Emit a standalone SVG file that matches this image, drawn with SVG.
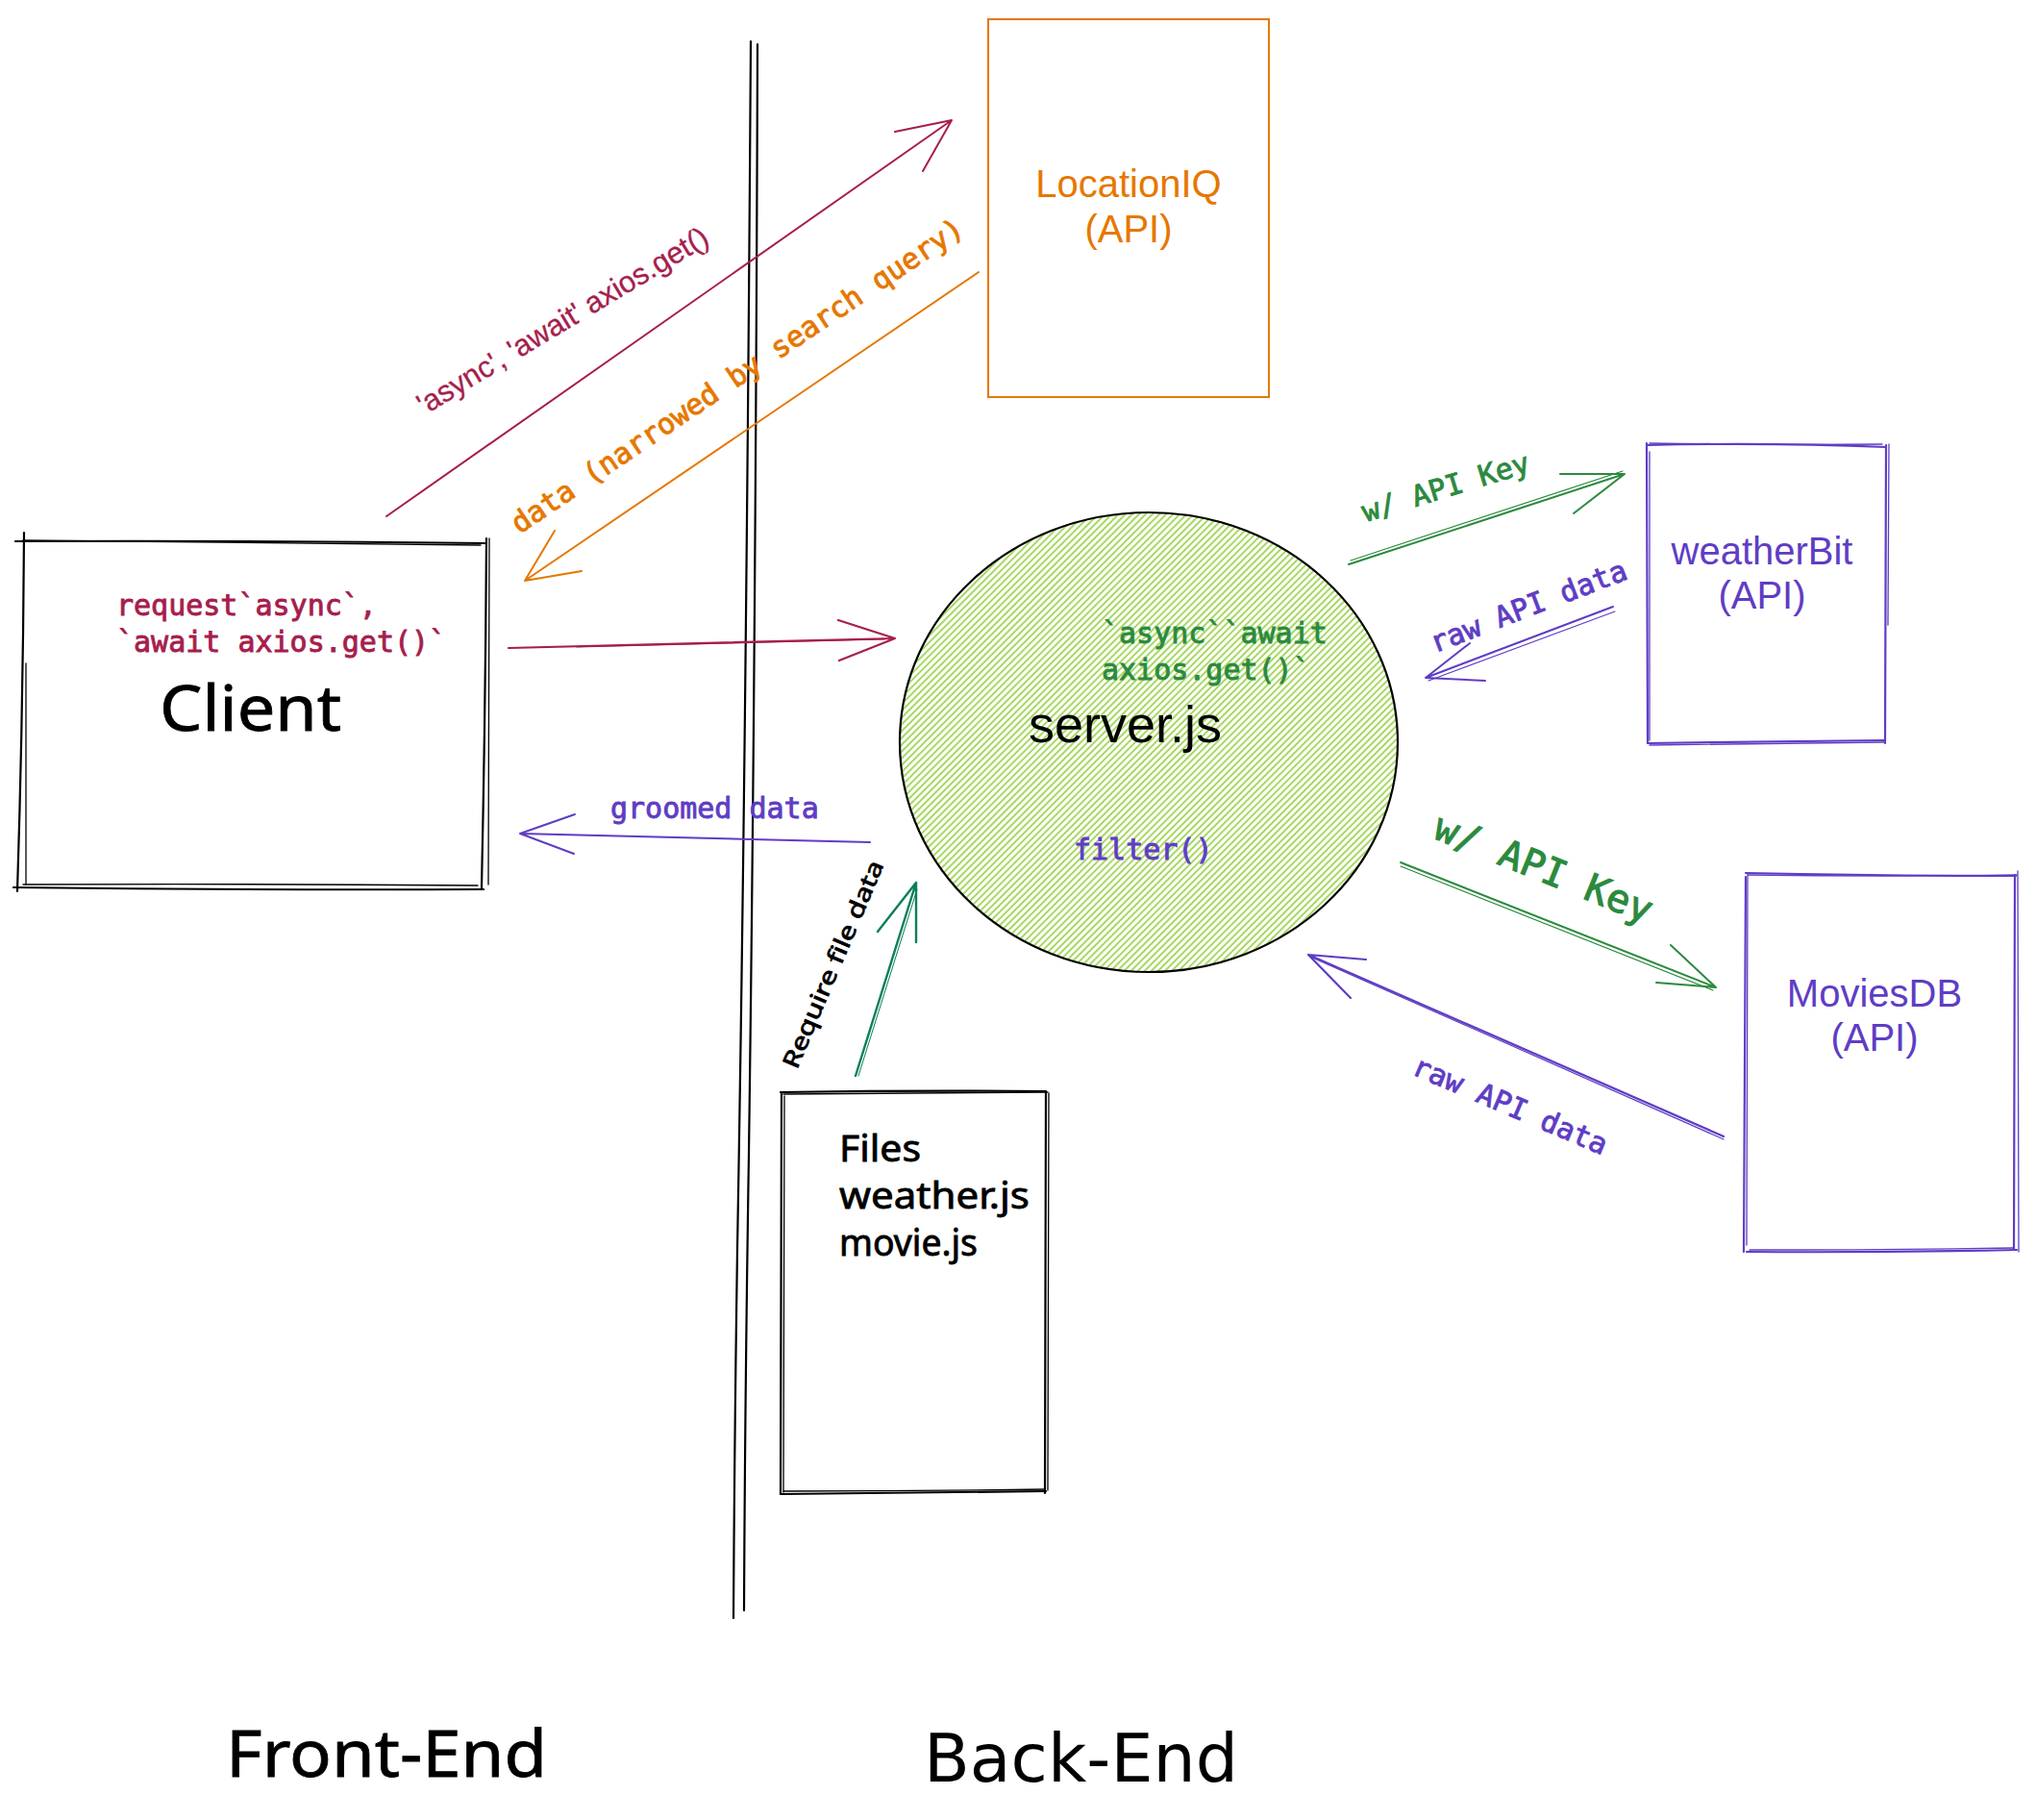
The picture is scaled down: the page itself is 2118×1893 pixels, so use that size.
<svg xmlns="http://www.w3.org/2000/svg" width="2118" height="1893" viewBox="0 0 2118 1893">
<style>
.sk{fill:none;stroke-linecap:round;stroke-linejoin:round}
.k{stroke:#000}
.red{stroke:#a61e4d}
.org{stroke:#e67700}
.grn{stroke:#2b8a3e}
.pur{stroke:#5f3dc4}
.teal{stroke:#087f5b}
.w1{stroke-width:2.2}
.w2{stroke-width:1.3}
.mono{font-family:"DejaVu Sans Mono","Liberation Mono",monospace;font-size:30px;stroke-width:0.9}
.big{font-size:40px;stroke-width:1.1}
.sans{font-family:"Liberation Sans",Arial,sans-serif}
.hand{font-family:"Noto Sans","Liberation Sans",sans-serif;fill:#000;stroke:#000;stroke-width:0.8}
.tred{fill:#a61e4d;stroke:#a61e4d}
.torg{fill:#e67700;stroke:#e67700}
.tgrn{fill:#2b8a3e;stroke:#2b8a3e}
.tpur{fill:#5f3dc4;stroke:#5f3dc4}
</style>
<defs>
<pattern id="hatch" patternUnits="userSpaceOnUse" width="5" height="10" patternTransform="rotate(45)">
<line x1="1" y1="0" x2="1" y2="10" stroke="#82c91e" stroke-width="1.4"/>
</pattern>
</defs>
<rect width="2118" height="1893" fill="#fff"/>

<g id="divider">
<path class="sk k w1" d="M781,43 Q776,800 767,1300 Q764,1500 763,1683"/>
<path class="sk k w1" d="M788,46 Q786,700 779,1200 Q775,1450 774,1675"/>
</g>

<g id="client">
<path class="sk k w1" d="M16,563 Q260,562 504,565"/>
<path class="sk k w2" d="M24,562 Q250,564 500,567"/>
<path class="sk k w1" d="M25,554 Q24,740 18,927"/>
<path class="sk k w2" d="M27,690 Q27,800 27,920"/>
<path class="sk k w1" d="M506,560 Q505,740 501,924"/>
<path class="sk k w2" d="M509,560 Q509,740 508,920"/>
<path class="sk k w1" d="M14,923 Q260,926 503,925"/>
<path class="sk k w2" d="M24,920 Q260,919 497,921"/>
<text class="mono tred" x="121" y="640">request`async`,</text>
<text class="mono tred" x="121" y="678">`await axios.get()`</text>
<text class="hand" x="166" y="760" font-size="66" textLength="189" lengthAdjust="spacingAndGlyphs" stroke-width="1.8">Client</text>
</g>

<g id="locationiq">
<rect x="1028" y="20" width="292" height="393" fill="none" stroke="#e67700" stroke-width="2"/>
<text class="sans" x="1174" y="205" font-size="40" fill="#e67700" text-anchor="middle">LocationIQ</text>
<text class="sans" x="1174" y="252" font-size="40" fill="#e67700" text-anchor="middle">(API)</text>
</g>

<g id="server">
<ellipse cx="1195" cy="772" rx="259" ry="239" fill="url(#hatch)"/>
<path class="sk k" stroke-width="2.2" d="M936,772 C936,640 1052,533 1195,533 C1338,533 1454,640 1454,772 C1454,904 1338,1011 1195,1011 C1052,1011 936,904 936,772 Z"/>
<text class="mono tgrn" x="1146" y="669">`async``await</text>
<text class="mono tgrn" x="1146" y="707">axios.get()`</text>
<text class="sans" x="1070" y="772" font-size="54" fill="#000">server.js</text>
<text class="mono tpur" x="1117" y="894">filter()</text>
</g>

<g id="weatherbit">
<path class="sk pur w1" d="M1713,463 Q1840,460 1962,465"/>
<path class="sk pur w2" d="M1716,461 Q1840,463 1958,462"/>
<path class="sk pur w1" d="M1713,461 Q1713,620 1714,773"/>
<path class="sk pur w2" d="M1716,470 Q1716,620 1716,770"/>
<path class="sk pur w1" d="M1962,463 Q1961,620 1961,773"/>
<path class="sk pur w2" d="M1965,462 Q1964,600 1964,650"/>
<path class="sk pur w1" d="M1714,773 Q1840,771 1961,770"/>
<path class="sk pur w2" d="M1716,775 Q1840,774 1960,772"/>
<text class="sans" x="1833" y="587" font-size="40" fill="#5f3dc4" text-anchor="middle">weatherBit</text>
<text class="sans" x="1833" y="633" font-size="40" fill="#5f3dc4" text-anchor="middle">(API)</text>
</g>

<g id="moviesdb">
<path class="sk pur w1" d="M1816,908 Q1960,911 2097,911"/>
<path class="sk pur w2" d="M1818,910 Q1960,912 2098,910"/>
<path class="sk pur w1" d="M1816,912 Q1815,1100 1814,1302"/>
<path class="sk pur w2" d="M1818,910 Q1818,1100 1817,1295"/>
<path class="sk pur w1" d="M2096,910 Q2096,1100 2095,1300"/>
<path class="sk pur w2" d="M2099,906 Q2099,1100 2100,1302"/>
<path class="sk pur w1" d="M1817,1302 Q1960,1303 2098,1300"/>
<path class="sk pur w2" d="M1820,1300 Q1960,1300 2094,1298"/>
<text class="sans" x="1950" y="1047" font-size="40" fill="#5f3dc4" text-anchor="middle">MoviesDB</text>
<text class="sans" x="1950" y="1093" font-size="40" fill="#5f3dc4" text-anchor="middle">(API)</text>
</g>

<g id="files">
<path class="sk k w1" d="M812,1136 Q950,1134 1088,1135"/>
<path class="sk k w2" d="M815,1138 Q950,1137 1090,1136"/>
<path class="sk k w1" d="M813,1136 Q813,1350 812,1554"/>
<path class="sk k w2" d="M816,1140 Q815,1350 815,1552"/>
<path class="sk k w1" d="M1088,1136 Q1088,1350 1087,1553"/>
<path class="sk k w2" d="M1091,1137 Q1091,1350 1090,1550"/>
<path class="sk k w1" d="M812,1554 Q950,1553 1088,1551"/>
<path class="sk k w2" d="M815,1551 Q950,1551 1087,1549"/>
<text class="hand" x="873" y="1208" font-size="38" textLength="85" lengthAdjust="spacingAndGlyphs">Files</text>
<text class="hand" x="873" y="1257" font-size="38" textLength="198" lengthAdjust="spacingAndGlyphs">weather.js</text>
<text class="hand" x="873" y="1306" font-size="38" textLength="144" lengthAdjust="spacingAndGlyphs">movie.js</text>
</g>

<g id="connectors">
<path class="sk red" stroke-width="2" d="M402,537 L990,125 M931,137 L990,125 L960,178"/>
<text class="sans tred" transform="translate(585,333) rotate(-31)" x="0" y="11" font-size="31" text-anchor="middle" stroke-width="0.3">'async', 'await' axios.get()</text>
<path class="sk org" stroke-width="2" d="M1018,283 L546,604 M605,594 L546,604 L577,552"/>
<text class="mono torg" transform="translate(767,391) rotate(-34)" x="0" y="10" text-anchor="middle" textLength="560" lengthAdjust="spacingAndGlyphs">data (narrowed by search query)</text>
<path class="sk red" stroke-width="2.2" d="M529,674 L931,664 M872,645 L931,664 L873,687"/>
<path class="sk red" stroke-width="1" d="M600,673 L920,665"/>
<path class="sk pur" stroke-width="2" d="M905,876 L541,867 M598,847 L541,867 L597,888"/>
<text class="mono tpur" x="635" y="851">groomed data</text>
<path class="sk grn" stroke-width="2" d="M1403,587 L1690,493 M1623,493 L1690,493 L1637,534"/>
<path class="sk grn" stroke-width="1.2" d="M1405,583 L1688,490"/>
<text class="mono tgrn" transform="translate(1504,507) rotate(-17)" x="0" y="10" text-anchor="middle">w/ API Key</text>
<path class="sk pur" stroke-width="2" d="M1678,631 L1483,705 M1529,669 L1483,705 L1545,708"/>
<path class="sk pur" stroke-width="1.2" d="M1680,636 L1486,708"/>
<text class="mono tpur" transform="translate(1590,631) rotate(-21)" x="0" y="10" text-anchor="middle">raw API data</text>
<path class="sk grn" stroke-width="2" d="M1457,897 L1785,1027 M1738,983 L1785,1027 L1723,1022"/>
<path class="sk grn" stroke-width="1.2" d="M1457,901 L1782,1030"/>
<text class="mono big tgrn" transform="translate(1606,903) rotate(22)" x="0" y="14" text-anchor="middle">w/ API Key</text>
<path class="sk pur" stroke-width="2.2" d="M1793,1182 L1361,993 M1421,998 L1361,993 L1405,1038"/>
<path class="sk pur" stroke-width="1.2" d="M1793,1185 L1365,996"/>
<text class="mono tpur" transform="translate(1571,1150) rotate(23)" x="0" y="10" text-anchor="middle">raw API data</text>
<path class="sk teal" stroke-width="2.4" d="M890,1119 L953,918 M913,969 L953,918 L953,980"/>
<path class="sk teal" stroke-width="1" d="M893,1119 L954,925"/>
<text class="hand" transform="translate(867,1003) rotate(-67)" x="0" y="8" font-size="24" text-anchor="middle" textLength="232" lengthAdjust="spacingAndGlyphs" stroke-width="0.5">Require file data</text>
</g>

<g id="labels">
<text class="hand" x="235" y="1848" font-size="68" textLength="334" lengthAdjust="spacingAndGlyphs" stroke-width="1.8">Front-End</text>
<text x="961" y="1853" font-family="DejaVu Sans, sans-serif" font-size="70" textLength="327" lengthAdjust="spacingAndGlyphs" fill="#000">Back-End</text>
</g>
</svg>
